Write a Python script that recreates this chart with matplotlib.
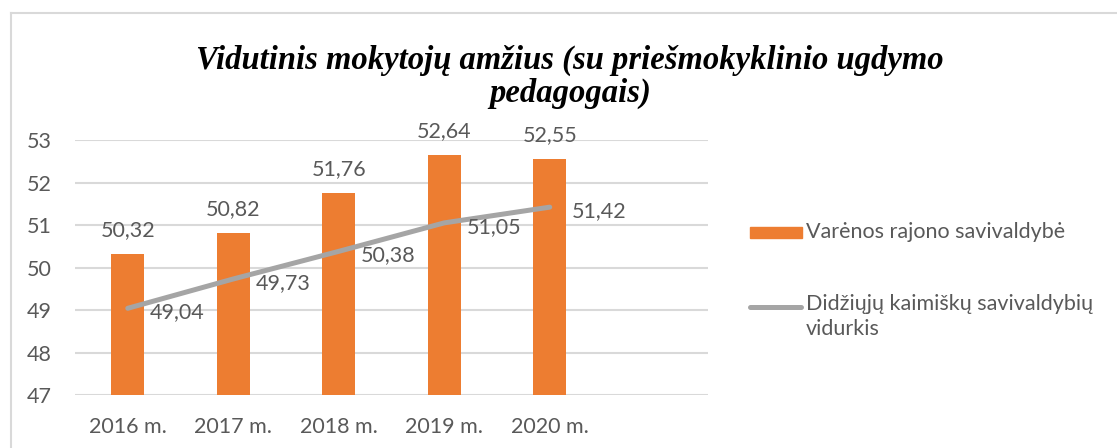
import matplotlib.pyplot as plt
from matplotlib.lines import Line2D
from matplotlib.patches import Rectangle

# Data
years = ['2016 m.', '2017 m.', '2018 m.', '2019 m.', '2020 m.']
varena = [50.32, 50.82, 51.76, 52.64, 52.55]
rural_avg = [49.04, 49.73, 50.38, 51.05, 51.42]
yticks = [47, 48, 49, 50, 51, 52, 53]

bar_name = 'Varėnos rajono savivaldybė'
line_name = 'Didžiųjų kaimiškų savivaldybių\nvidurkis'
title = 'Vidutinis mokytojų amžius (su priešmokyklinio ugdymo\npedagogais)'

orange = '#ED7D31'
grey = '#A5A5A5'
txt = '#595959'
fs = 15.5

plt.rcParams['font.family'] = ['Lato', 'DejaVu Sans']

W, H = 1117, 448
fig = plt.figure(figsize=(W / 100, H / 100), dpi=100)
ax = fig.add_axes([75 / W, 1 - 395 / H, (708 - 75) / W, (395 - 140) / H])

x = list(range(len(years)))
bars = ax.bar(x, [v - 47 for v in varena], bottom=47, width=0.31, color=orange, zorder=2)
ax.plot(x, rural_avg, color=grey, lw=3.6, solid_capstyle='round', zorder=3)

fmt = lambda v: f'{v:.2f}'.replace('.', ',')
ax.bar_label(bars, labels=[fmt(v) for v in varena], padding=10, fontsize=fs, color=txt)
for i, v in enumerate(rural_avg):
    ax.annotate(fmt(v), (i, v), xytext=(16, -3), textcoords='offset points',
                ha='left', va='center', fontsize=fs, color=txt, zorder=4)

ax.set_xlim(-0.5, 5.5)
ax.set_ylim(47, 53)
ax.set_xticks(x)
ax.set_xticklabels(years)
ax.set_yticks(yticks)
ax.tick_params(axis='both', length=0, labelsize=fs, labelcolor=txt)
ax.tick_params(axis='y', pad=17)
ax.tick_params(axis='x', pad=16)
ax.grid(axis='y', color='#D9D9D9', lw=1.5, zorder=0)
ax.set_axisbelow(True)
for s in ax.spines.values():
    s.set_visible(False)

# Title
fig.text(570 / W, 1 - 77 / H, title, ha='center', va='center', fontsize=23.5,
         family='Liberation Serif', fontweight='bold', fontstyle='italic',
         linespacing=1.1, color='black')

# Legend drawn by hand in figure pixels
fig.patches.append(Rectangle((750 / W, 1 - 238 / H), 52 / W, 11 / H,
                             transform=fig.transFigure, color=orange))
fig.text(806 / W, 1 - 232 / H, bar_name, ha='left', va='center', fontsize=fs, color=txt)
fig.lines.append(Line2D([750 / W, 801 / W], [1 - 307 / H, 1 - 307 / H],
                        transform=fig.transFigure, color=grey, lw=3.6,
                        solid_capstyle='round'))
fig.text(806 / W, 1 - 294 / H, line_name, ha='left', va='top', fontsize=fs,
         color=txt, linespacing=1.3)

# Outer frame (top and left edges visible)
fig.lines.append(Line2D([11 / W, 1], [1 - 13 / H, 1 - 13 / H], transform=fig.transFigure,
                        color='#D9D9D9', lw=1.5))
fig.lines.append(Line2D([11 / W, 11 / W], [0, 1 - 13 / H], transform=fig.transFigure,
                        color='#D9D9D9', lw=1.5))

fig.savefig('out.png', dpi=100)
